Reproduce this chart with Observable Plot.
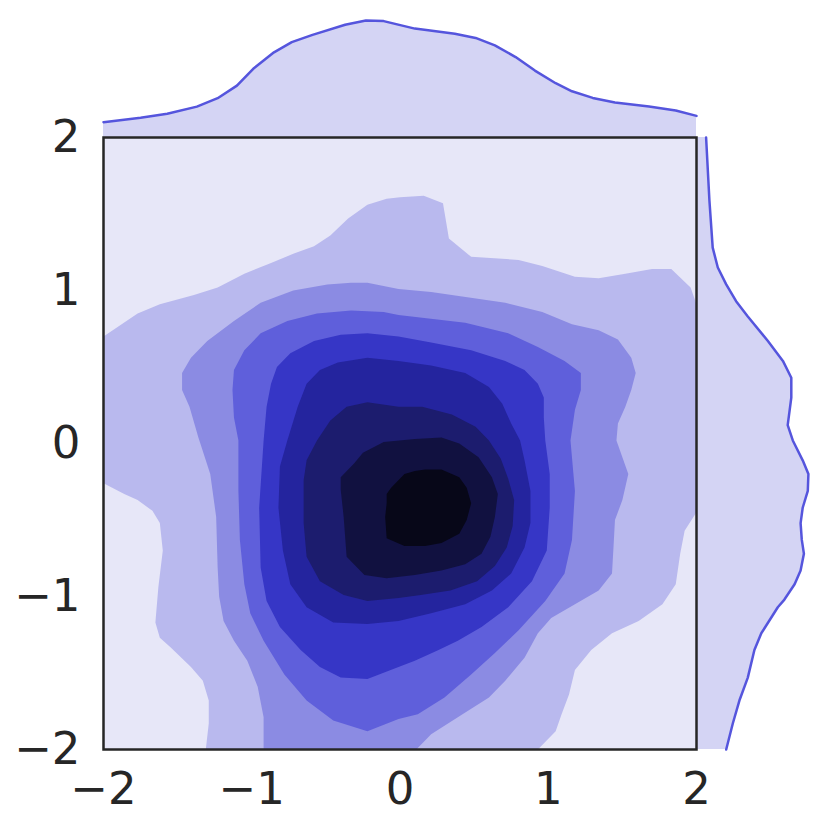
<!DOCTYPE html>
<html>
<head>
<meta charset="utf-8">
<script src="https://cdn.jsdelivr.net/npm/d3@7"></script>
<script src="https://cdn.jsdelivr.net/npm/@observablehq/plot@0.6"></script>
<style>
  html, body { margin: 0; padding: 0; background: #fff; }
  #fig { position: relative; width: 830px; height: 830px; background: #fff; }
  #fig svg { position: absolute; }
</style>
</head>
<body>
<div id="fig"></div>
<script>
// ---- tick labels ----
const xTicks = [-2, -1, 0, 1, 2];
const yTicks = [-2, -1, 0, 1, 2];

// ---- contour fill colours (lowest level first) ----
const levelColors = ["#e7e7f8", "#b9b9ee", "#8b8be3", "#5f5fdb", "#3636c6", "#24249e", "#1c1c6e", "#111140", "#070718"];

// ---- filled contour regions, [x, y] in data units ----
const level2 = [[-2,0.70],[-1.77,0.85],[-1.62,0.91],[-1.39,0.97],[-1.23,1.02],[-1.05,1.11],[-0.87,1.18],[-0.72,1.24],[-0.58,1.29],[-0.47,1.36],[-0.35,1.47],[-0.22,1.56],[-0.09,1.60],[0.00,1.61],[0.16,1.62],[0.29,1.57],[0.33,1.34],[0.48,1.22],[0.80,1.20],[0.96,1.16],[1.18,1.09],[1.34,1.08],[1.52,1.11],[1.70,1.14],[1.83,1.14],[1.96,1.02],[2,0.91],[2,-0.45],[1.92,-0.57],[1.89,-0.72],[1.86,-0.92],[1.77,-1.05],[1.61,-1.16],[1.43,-1.24],[1.29,-1.35],[1.18,-1.48],[1.14,-1.64],[1.09,-1.77],[1.05,-1.88],[0.93,-2],[-1.31,-2],[-1.29,-1.83],[-1.29,-1.68],[-1.33,-1.55],[-1.41,-1.46],[-1.55,-1.33],[-1.62,-1.27],[-1.65,-1.17],[-1.63,-0.94],[-1.60,-0.70],[-1.62,-0.52],[-1.67,-0.44],[-1.77,-0.37],[-1.86,-0.33],[-2,-0.26]];
const level3 = [[-1.47,0.46],[-1.41,0.56],[-1.30,0.67],[-1.12,0.80],[-0.94,0.92],[-0.72,1.00],[-0.49,1.04],[-0.33,1.05],[-0.22,1.05],[-0.01,1.01],[0.21,0.99],[0.71,0.92],[0.96,0.86],[1.16,0.78],[1.34,0.74],[1.47,0.68],[1.56,0.56],[1.59,0.46],[1.56,0.35],[1.52,0.24],[1.47,0.13],[1.46,0.02],[1.54,-0.20],[1.50,-0.37],[1.45,-0.50],[1.44,-0.68],[1.43,-0.85],[1.34,-0.96],[1.18,-1.05],[1.02,-1.14],[0.93,-1.24],[0.84,-1.40],[0.71,-1.55],[0.60,-1.66],[0.39,-1.79],[0.21,-1.90],[0.11,-2],[-0.92,-2],[-0.92,-1.79],[-0.96,-1.59],[-1.03,-1.42],[-1.12,-1.29],[-1.19,-1.16],[-1.22,-1.00],[-1.23,-0.81],[-1.24,-0.48],[-1.28,-0.20],[-1.36,0.04],[-1.42,0.24],[-1.47,0.35]];
const level4 = [[-1.13,0.35],[-1.12,0.48],[-1.05,0.61],[-0.94,0.72],[-0.76,0.80],[-0.56,0.85],[-0.33,0.87],[-0.11,0.86],[-0.01,0.84],[0.44,0.79],[0.73,0.72],[0.93,0.63],[1.11,0.54],[1.22,0.46],[1.22,0.35],[1.18,0.22],[1.15,0.02],[1.18,-0.31],[1.16,-0.63],[1.11,-0.85],[0.98,-1.03],[0.80,-1.22],[0.64,-1.37],[0.48,-1.51],[0.30,-1.66],[0.12,-1.77],[-0.01,-1.80],[-0.22,-1.88],[-0.45,-1.81],[-0.63,-1.68],[-0.78,-1.51],[-0.92,-1.29],[-1.01,-1.11],[-1.05,-0.92],[-1.08,-0.63],[-1.09,-0.31],[-1.09,0.02],[-1.12,0.17]];
const level5 = [[-0.92,0.02],[-0.90,0.24],[-0.87,0.39],[-0.83,0.50],[-0.74,0.59],[-0.58,0.67],[-0.40,0.71],[-0.22,0.72],[-0.01,0.70],[0.21,0.66],[0.48,0.61],[0.71,0.54],[0.84,0.48],[0.93,0.39],[0.97,0.30],[0.97,0.17],[0.98,0.02],[1.01,-0.20],[1.01,-0.42],[0.99,-0.70],[0.89,-0.90],[0.73,-1.07],[0.55,-1.20],[0.39,-1.29],[0.26,-1.35],[0.10,-1.42],[-0.01,-1.46],[-0.22,-1.54],[-0.40,-1.53],[-0.54,-1.46],[-0.67,-1.35],[-0.81,-1.20],[-0.90,-1.03],[-0.94,-0.81],[-0.95,-0.42]];
const level6 = [[-0.76,0.02],[-0.69,0.24],[-0.63,0.39],[-0.54,0.48],[-0.42,0.53],[-0.22,0.56],[-0.01,0.54],[0.21,0.51],[0.44,0.46],[0.60,0.37],[0.69,0.26],[0.75,0.13],[0.81,0.02],[0.84,-0.11],[0.88,-0.31],[0.88,-0.52],[0.84,-0.68],[0.75,-0.85],[0.62,-0.96],[0.44,-1.05],[0.21,-1.11],[-0.01,-1.16],[-0.22,-1.18],[-0.45,-1.17],[-0.63,-1.07],[-0.74,-0.92],[-0.79,-0.70],[-0.82,-0.42],[-0.81,-0.15]];
const level7 = [[-0.56,0.02],[-0.47,0.15],[-0.36,0.24],[-0.22,0.27],[-0.01,0.24],[0.15,0.24],[0.35,0.19],[0.51,0.11],[0.60,0.02],[0.68,-0.10],[0.73,-0.23],[0.77,-0.37],[0.76,-0.54],[0.72,-0.68],[0.64,-0.80],[0.52,-0.90],[0.34,-0.96],[0.14,-0.99],[-0.01,-1.01],[-0.22,-1.03],[-0.38,-0.99],[-0.54,-0.90],[-0.63,-0.74],[-0.65,-0.52],[-0.65,-0.24],[-0.63,-0.11]];
const level8 = [[-0.40,-0.22],[-0.31,-0.13],[-0.25,-0.06],[-0.11,0.01],[0.10,0.03],[0.28,0.04],[0.40,0.00],[0.53,-0.09],[0.62,-0.22],[0.66,-0.33],[0.64,-0.48],[0.61,-0.61],[0.55,-0.72],[0.44,-0.79],[0.28,-0.83],[0.10,-0.86],[-0.09,-0.88],[-0.24,-0.86],[-0.36,-0.74],[-0.38,-0.48],[-0.40,-0.30]];
const level9 = [[-0.09,-0.33],[-0.06,-0.29],[0.03,-0.20],[0.10,-0.18],[0.17,-0.17],[0.28,-0.17],[0.40,-0.22],[0.45,-0.29],[0.48,-0.39],[0.45,-0.50],[0.40,-0.59],[0.28,-0.65],[0.17,-0.67],[0.03,-0.67],[-0.09,-0.62],[-0.10,-0.48],[-0.09,-0.39]];
const levels = [level2, level3, level4, level5, level6, level7, level8, level9];

// ---- marginal densities ----
const topX = [-2.00,-1.75,-1.57,-1.37,-1.23,-1.10,-0.99,-0.85,-0.73,-0.59,-0.37,-0.23,-0.11,0.10,0.37,0.51,0.64,0.78,0.91,1.05,1.16,1.30,1.45,1.68,1.86,2.00];
const topDensity = [0.051,0.066,0.079,0.103,0.131,0.173,0.229,0.284,0.318,0.342,0.376,0.390,0.388,0.363,0.346,0.332,0.307,0.268,0.223,0.181,0.154,0.132,0.117,0.103,0.090,0.072];
const rightY = [2.00,1.59,1.28,1.15,1.04,0.93,0.83,0.67,0.54,0.43,0.30,0.12,0.02,-0.11,-0.20,-0.31,-0.42,-0.52,-0.63,-0.72,-0.83,-0.92,-1.02,-1.07,-1.24,-1.35,-1.53,-1.68,-1.83,-2.00];
const rightDensity = [0.032,0.043,0.054,0.071,0.099,0.132,0.171,0.238,0.288,0.316,0.316,0.304,0.321,0.354,0.373,0.371,0.354,0.347,0.351,0.358,0.347,0.327,0.293,0.271,0.216,0.193,0.171,0.143,0.121,0.099];

const margFill = "#d4d4f4";
const margStroke = "#5555dd";
const ink = "#262626";
const fmt = d => (d < 0 ? "\u2212" + Math.abs(d) : String(d));

const topData = topX.map((x, i) => ({x, d: topDensity[i]}));
const rightData = rightY.map((y, i) => ({y, d: rightDensity[i]}));

const W = 830, H = 830;
const mL = 103, mR = 134, mT = 137, mB = 81;
const pxPerDensity = 300;

const baseStyle = {background: "transparent", overflow: "visible", fontFamily: "DejaVu Sans", fontSize: "45px", color: ink};

const mainPlot = Plot.plot({
  width: W, height: H,
  marginLeft: mL, marginRight: mR, marginTop: mT, marginBottom: mB,
  style: baseStyle,
  x: {domain: [-2, 2], ticks: xTicks, tickSize: 0, tickPadding: 23, tickFormat: fmt, label: null},
  y: {domain: [-2, 2], ticks: yTicks, tickSize: 0, tickPadding: 23, tickFormat: fmt, label: null},
  marks: [
    Plot.frame({fill: levelColors[0]}),
    ...levels.map((poly, i) => Plot.line(poly, {x: d => d[0], y: d => d[1], fill: levelColors[i + 1], stroke: "none", clip: true})),
    Plot.frame({stroke: ink, strokeWidth: 2.5})
  ]
});
mainPlot.style.left = "0px"; mainPlot.style.top = "0px";

const topPlot = Plot.plot({
  width: W, height: mT,
  marginLeft: mL, marginRight: mR, marginTop: 0, marginBottom: 0,
  style: baseStyle,
  x: {domain: [-2, 2], axis: null},
  y: {domain: [0, mT / pxPerDensity], axis: null},
  marks: [
    Plot.areaY(topData, {x: "x", y: "d", fill: margFill}),
    Plot.lineY(topData, {x: "x", y: "d", stroke: margStroke, strokeWidth: 2.5})
  ]
});
topPlot.style.left = "0px"; topPlot.style.top = "0px";

const rightPlot = Plot.plot({
  width: mR, height: H,
  marginLeft: 0, marginRight: 0, marginTop: mT, marginBottom: mB,
  style: baseStyle,
  x: {domain: [0, mR / pxPerDensity], axis: null},
  y: {domain: [-2, 2], axis: null},
  marks: [
    Plot.areaX(rightData, {y: "y", x: "d", fill: margFill}),
    Plot.lineX(rightData, {y: "y", x: "d", stroke: margStroke, strokeWidth: 2.5})
  ]
});
rightPlot.style.left = (W - mR) + "px"; rightPlot.style.top = "0px";

const fig = document.getElementById("fig");
fig.appendChild(topPlot);
fig.appendChild(rightPlot);
fig.appendChild(mainPlot);
</script>
</body>
</html>
